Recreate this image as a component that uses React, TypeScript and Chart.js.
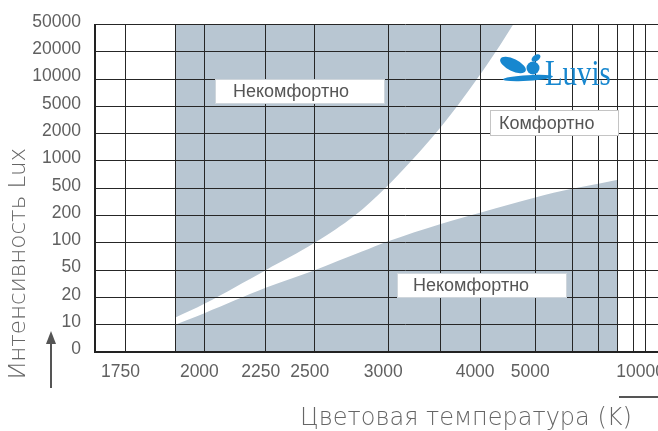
import React, { useEffect, useRef } from "react";
import { Chart, registerables } from "chart.js";

Chart.register(...registerables);

// ---- data ----
const Y_TICK_VALUES = [0, 10, 20, 50, 100, 200, 500, 1000, 2000, 5000, 10000, 20000, 50000];
const X_LABELED_TEMPS = [1750, 2000, 2250, 2500, 3000, 4000, 5000, 10000];
const X_GRID_TEMPS = [1750, 1900, 2000, 2250, 2500, 3000, 3500, 4000, 5000, 6000, 7000, 8000, 9000, 10000];

// upper "uncomfortable" zone boundary (K, lux)
const UPPER_TEMPS = [1900, 2000, 2250, 2500, 2750, 2975, 3200, 3440, 3690, 3955, 4240, 4545];
const UPPER_LUX = [12, 17, 50, 100, 200, 500, 1000, 2000, 5000, 10000, 20000, 50000];

// lower "uncomfortable" zone boundary (K, lux)
const LOWER_TEMPS = [1900, 2000, 2250, 2500, 2800, 3000, 3500, 4000, 5000, 6000, 7000, 8000];
const LOWER_LUX = [10, 13.4, 27.6, 50, 80, 104, 161, 220, 367, 490, 560, 620];

// axis range (K)
const AXIS_T_LEFT = 1669;
const AXIS_T_RIGHT = 27000;

const ZONE_LABELS = ["Некомфортно", "Комфортно", "Некомфортно"];
const X_TITLE = "Цветовая температура (K)";
const Y_TITLE = "Интенсивность Lux";
const BRAND = "Luvis";

// ---- helpers ----
const toMired = (t: number) => 1e6 / t;
const luxToIdx = (v: number) => {
  if (v <= Y_TICK_VALUES[1]) return v / Y_TICK_VALUES[1];
  for (let k = 1; k < Y_TICK_VALUES.length - 1; k++) {
    const a = Y_TICK_VALUES[k];
    const b = Y_TICK_VALUES[k + 1];
    if (v <= b) return k + Math.log(v / a) / Math.log(b / a);
  }
  return Y_TICK_VALUES.length - 1;
};

const FILL = "#b8c6d2";
const GRID = "#262626";
const TEXT = "#606060";

// overlay layout (pixels)
const BOXES = [
  { text: ZONE_LABELS[0], x: 215, y: 79, w: 170, h: 25, pad: 18, border: "#cfd6dc" },
  { text: ZONE_LABELS[1], x: 490, y: 110, w: 129, h: 26, pad: 9, border: "#c4c4c4" },
  { text: ZONE_LABELS[2], x: 397, y: 273, w: 170, h: 25, pad: 16, border: "#cfd6dc" },
];

const overlayPlugin = {
  id: "overlay",
  afterDraw(chart: any) {
    const ctx = chart.ctx as CanvasRenderingContext2D;
    ctx.save();
    // zone label boxes
    for (const b of BOXES) {
      ctx.fillStyle = "#ffffff";
      ctx.fillRect(b.x, b.y, b.w, b.h);
      ctx.strokeStyle = b.border;
      ctx.lineWidth = 1;
      ctx.strokeRect(b.x + 0.5, b.y + 0.5, b.w - 1, b.h - 1);
      ctx.fillStyle = "#555";
      ctx.font = '18px "Liberation Sans", Arial, sans-serif';
      ctx.textAlign = "left";
      ctx.textBaseline = "middle";
      ctx.fillText(b.text, b.x + b.pad, b.y + b.h / 2 + 1);
    }
    // brand logo
    const blue = "#1787cf";
    ctx.fillStyle = blue;
    ctx.beginPath();
    ctx.ellipse(513, 65, 14, 6, 0.45, 0, Math.PI * 2);
    ctx.fill();
    ctx.beginPath();
    ctx.ellipse(528, 78, 25, 2.8, -0.06, 0, Math.PI * 2);
    ctx.fill();
    ctx.beginPath();
    ctx.arc(533, 68, 6.5, 0, Math.PI * 2);
    ctx.fill();
    ctx.beginPath();
    ctx.ellipse(536, 58, 5, 3, -0.6, 0, Math.PI * 2);
    ctx.fill();
    ctx.save();
    ctx.translate(545, 85);
    ctx.scale(0.8, 1);
    ctx.font = '36px "Liberation Serif", serif';
    ctx.textAlign = "left";
    ctx.textBaseline = "alphabetic";
    ctx.fillText(BRAND, 0, 0);
    ctx.restore();

    // axis titles
    ctx.fillStyle = "#666";
    ctx.font = '200 24px "DejaVu Sans", sans-serif';
    ctx.textAlign = "center";
    ctx.textBaseline = "alphabetic";
    ctx.fillText(X_TITLE, 466, 425);

    ctx.save();
    ctx.translate(25, 263.5);
    ctx.rotate(-Math.PI / 2);
    ctx.font = '200 23px "DejaVu Sans", sans-serif';
    ctx.fillText(Y_TITLE, 0, 0);
    ctx.restore();

    // arrows
    ctx.strokeStyle = "#555";
    ctx.fillStyle = "#555";
    ctx.lineWidth = 2;
    ctx.beginPath();
    ctx.moveTo(51, 388);
    ctx.lineTo(51, 342);
    ctx.stroke();
    ctx.beginPath();
    ctx.moveTo(51, 331);
    ctx.lineTo(46, 344);
    ctx.lineTo(56, 344);
    ctx.closePath();
    ctx.fill();
    ctx.beginPath();
    ctx.moveTo(619, 397);
    ctx.lineTo(700, 397);
    ctx.stroke();
    ctx.restore();
  },
};

export default function App() {
  const ref = useRef<HTMLCanvasElement | null>(null);
  useEffect(() => {
    if (!ref.current) return;
    const tickFont = { family: '"Liberation Sans", Arial, sans-serif', size: 17.5 };
    const chart = new Chart(ref.current, {
      type: "line",
      data: {
        datasets: [
          {
            label: "upper",
            data: UPPER_TEMPS.map((t, i) => ({ x: toMired(t), y: luxToIdx(UPPER_LUX[i]) })),
            fill: "end",
            backgroundColor: FILL,
            borderWidth: 0,
            pointRadius: 0,
            tension: 0.35,
          },
          {
            label: "lower",
            data: LOWER_TEMPS.map((t, i) => ({ x: toMired(t), y: luxToIdx(LOWER_LUX[i]) })),
            fill: "start",
            backgroundColor: FILL,
            borderWidth: 0,
            pointRadius: 0,
            tension: 0.35,
          },
        ],
      },
      options: {
        responsive: false,
        animation: false,
        devicePixelRatio: 1,
        layout: { padding: { top: 23, right: 0, bottom: 0, left: 0 } },
        plugins: {
          legend: { display: false },
          tooltip: { enabled: false },
          title: { display: false },
        },
        scales: {
          x: {
            type: "linear",
            reverse: true,
            min: toMired(AXIS_T_RIGHT),
            max: toMired(AXIS_T_LEFT),
            afterBuildTicks: (s: any) => {
              s.ticks = X_GRID_TEMPS.map((t) => ({ value: toMired(t) }));
            },
            afterFit: (s: any) => {
              s.height = 79;
            },
            ticks: {
              autoSkip: false,
              maxRotation: 0,
              minRotation: 0,
              padding: 10,
              labelOffset: -5,
              font: tickFont,
              color: TEXT,
              callback: (v: any) => {
                const t = Math.round(1e6 / Number(v));
                return X_LABELED_TEMPS.includes(t) ? String(t) : "";
              },
            },
            grid: { color: GRID, lineWidth: 1, drawTicks: false, z: 1 },
            border: { display: true, color: "#222", width: 2, z: 2 },
          },
          y: {
            type: "linear",
            min: 0,
            max: Y_TICK_VALUES.length - 1,
            afterBuildTicks: (s: any) => {
              s.ticks = Y_TICK_VALUES.map((_, i) => ({ value: i }));
            },
            afterFit: (s: any) => {
              s.width = 95;
            },
            ticks: {
              padding: 14,
              labelOffset: -2.5,
              font: tickFont,
              color: TEXT,
              callback: (v: any) => String(Y_TICK_VALUES[Math.round(Number(v))]),
            },
            grid: { color: GRID, lineWidth: 1, drawTicks: false, z: 1 },
            border: { display: true, color: "#222", width: 2, z: 2 },
          },
        },
      },
      plugins: [overlayPlugin],
    } as any);
    return () => chart.destroy();
  }, []);

  return (
    <div
      style={{
        position: "fixed",
        left: 0,
        top: 0,
        width: 658,
        height: 431,
        overflow: "hidden",
        background: "#fff",
      }}
    >
      <canvas ref={ref} width={715} height={431} style={{ display: "block" }} />
    </div>
  );
}
